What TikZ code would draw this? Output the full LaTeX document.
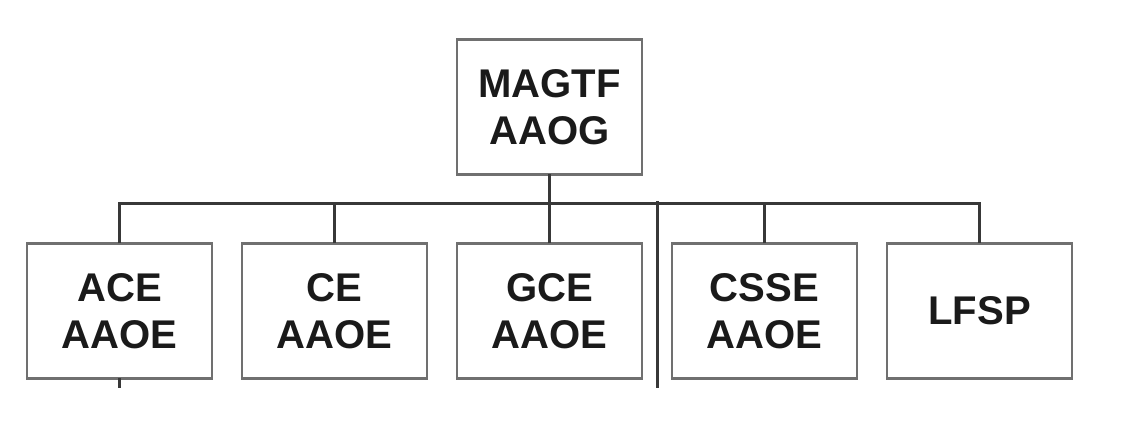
\documentclass[tikz,border=0pt]{standalone}
\usepackage{fontspec}
\setmainfont{Liberation Sans}
\usepackage{xcolor}
\usetikzlibrary{positioning, calc}

\definecolor{boxline}{HTML}{707070}
\definecolor{busline}{HTML}{383838}
\definecolor{inktext}{HTML}{1A1A1A}

\begin{document}
\begin{tikzpicture}[
      node distance=0.6cm,
      every node/.style={draw=boxline, line width=1.4pt, rectangle, align=center,
        minimum width=3.7cm, minimum height=2.7cm, inner sep=0pt, outer sep=0pt,
        text=inktext, font=\fontsize{22.8}{26.8}\selectfont\bfseries},
      link/.style={draw=busline, line width=1.7pt}
    ]
      \useasboundingbox (-10.99,2.14) rectangle (11.51,-6.36);

      \node (root) at (0,0) {MAGTF\\AAOG};
      \node[below=1.38cm of root] (gce) {GCE\\AAOE};
      \node[left=of gce] (ce) {CE\\AAOE};
      \node[left=of ce] (ace) {ACE\\AAOE};
      \node[right=of gce] (csse) {CSSE\\AAOE};
      \node[right=of csse] (lfsp) {LFSP};

      % bus between the levels
      \coordinate (bus) at ($(root.south)+(0,-0.58)$);
      \draw[link] (root.south) -- (bus);
      \draw[link] (ace.north) |- (bus) -| (lfsp.north);
      \foreach \unit in {ce, gce, csse}
        \draw[link] (\unit.north) -- (\unit.north |- bus);

      % open ends below
      \coordinate (gap) at ($(gce.east)!0.5!(csse.west)$);
      \coordinate (splitTop) at ($(gap |- bus)+(0,0.05)$);
      \coordinate (splitEnd) at ($(gap |- gce.south)+(0,-0.19)$);
      \draw[link] (splitTop) -- (splitEnd);
      \coordinate (aceEnd) at ($(ace.south)+(0,-0.19)$);
      \draw[link] (ace.south) -- (aceEnd);
    \end{tikzpicture}
\end{document}
